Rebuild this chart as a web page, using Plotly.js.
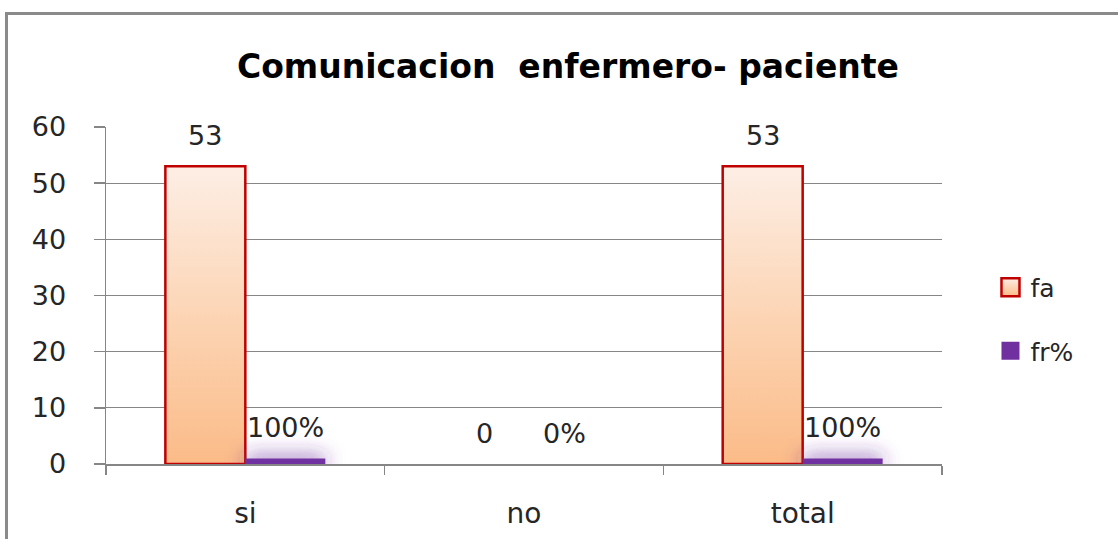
<!DOCTYPE html>
<html>
<head>
<meta charset="utf-8">
<script src="https://cdn.plot.ly/plotly-3.0.1.min.js"></script>
<style>
  html, body { margin: 0; padding: 0; background: #ffffff; overflow: hidden; }
  #frame { position: absolute; left: 5px; top: 12px; width: 1200px; height: 600px;
           border-top: 3px solid #8a8a8a; border-left: 3px solid #8a8a8a; box-sizing: border-box; }
  #chart { position: absolute; left: 0; top: 0; width: 1118px; height: 539px; }
</style>
</head>
<body>
<div id="frame"></div>
<div id="chart"></div>
<script>
const categories = ["si", "no", "total"];
const faValues = [53, 0, 53];
const frValues = [1, 0, 1];
const faLabels = ["53", "0", "53"];
const frLabels = ["100%", "0%", "100%"];
const titleText = "Comunicacion  enfermero- paciente";

const traces = [
  {
    type: "bar", name: "fa", x: categories, y: faValues,
    marker: { color: "#fcd3b2", line: { color: "#c00000", width: faValues.map(v => v > 0 ? 2.5 : 0) } },
    legendgroup: "a", hoverinfo: "none"
  },
  {
    type: "bar", name: "fr%", x: categories, y: frValues,
    marker: { color: "#7030a0", line: { width: 0 } },
    legendgroup: "b", hoverinfo: "none"
  }
];

const annotations = [];
categories.forEach((c, i) => {
  annotations.push({ x: c, y: faValues[i], xref: "x", yref: "y", text: faLabels[i],
    showarrow: false, xshift: -40, yshift: 31, yanchor: "middle",
    font: { family: "DejaVu Sans", size: 27, color: "#262626" } });
  annotations.push({ x: c, y: frValues[i], xref: "x", yref: "y", text: frLabels[i],
    showarrow: false, xshift: 40, yshift: 31, yanchor: "middle",
    font: { family: "DejaVu Sans", size: 27, color: "#262626" } });
});

const layout = {
  width: 1118, height: 539,
  paper_bgcolor: "rgba(0,0,0,0)", plot_bgcolor: "rgba(0,0,0,0)",
  margin: { l: 106, r: 176, t: 127, b: 75 },
  title: { text: "<b>" + titleText + "</b>", xref: "container", yref: "container",
           x: 0.508, y: 1 - 66 / 539, xanchor: "center", yanchor: "middle",
           font: { family: "DejaVu Sans", size: 33, color: "#000000" } },
  barmode: "group", bargap: 0.426, bargroupgap: 0,
  showlegend: true,
  legend: { x: 1.058, y: 0.43, xanchor: "left", yanchor: "middle",
            traceorder: "grouped", tracegroupgap: 28,
            font: { family: "DejaVu Sans", size: 25, color: "#262626" },
            bgcolor: "rgba(0,0,0,0)" },
  xaxis: { type: "category", showline: true, linecolor: "#868686", linewidth: 1.5,
           ticks: "outside", tickson: "boundaries", ticklen: 9, tickcolor: "#868686", tickwidth: 1.5,
           ticklabelstandoff: 24, showgrid: false, zeroline: false,
           tickfont: { family: "DejaVu Sans", size: 28, color: "#262626" } },
  yaxis: { range: [0, 60], dtick: 10, tick0: 0, showline: true, linecolor: "#868686", linewidth: 1.5,
           ticks: "outside", ticklen: 11, tickcolor: "#868686", tickwidth: 1.5,
           ticklabelstandoff: 22, showgrid: true, gridcolor: "#868686", gridwidth: 1.2,
           zeroline: false,
           tickfont: { family: "DejaVu Sans", size: 27, color: "#262626" } },
  annotations: annotations
};

Plotly.newPlot("chart", traces, layout, { displayModeBar: false, staticPlot: true }).then(gd => {
  const svgNS = "http://www.w3.org/2000/svg";
  const svg = gd.querySelector("svg.main-svg");
  let defs = svg.querySelector("defs");
  if (!defs) { defs = document.createElementNS(svgNS, "defs"); svg.insertBefore(defs, svg.firstChild); }
  const grad = document.createElementNS(svgNS, "linearGradient");
  grad.setAttribute("id", "faGrad");
  grad.setAttribute("x1", "0"); grad.setAttribute("y1", "0");
  grad.setAttribute("x2", "0"); grad.setAttribute("y2", "1");
  [["0", "#fdeee5"], ["0.5", "#fcd5b5"], ["1", "#fbbb88"]].forEach(([o, c]) => {
    const s = document.createElementNS(svgNS, "stop");
    s.setAttribute("offset", o); s.setAttribute("stop-color", c); grad.appendChild(s);
  });
  defs.appendChild(grad);
  const filt = document.createElementNS(svgNS, "filter");
  filt.setAttribute("id", "glow");
  filt.setAttribute("x", "-50%"); filt.setAttribute("y", "-800%");
  filt.setAttribute("width", "200%"); filt.setAttribute("height", "1700%");
  filt.innerHTML = '<feGaussianBlur in="SourceGraphic" stdDeviation="10" result="b"/>' +
    '<feComponentTransfer in="b" result="c"><feFuncA type="linear" slope="3.5"/></feComponentTransfer>' +
    '<feComponentTransfer in="c" result="d"><feFuncA type="linear" slope="0.45"/></feComponentTransfer>' +
    '<feMerge><feMergeNode in="d"/><feMergeNode in="SourceGraphic"/></feMerge>';
  defs.appendChild(filt);

  const barTraces = gd.querySelectorAll(".barlayer .trace.bars");
  if (barTraces[0]) barTraces[0].querySelectorAll("path").forEach(p => p.style.fill = "url(#faGrad)");
  if (barTraces[1]) barTraces[1].querySelectorAll("path").forEach(p => p.setAttribute("filter", "url(#glow)"));
  const legItems = gd.querySelectorAll(".legend .traces");
  legItems.forEach((it, i) => {
    const p = it.querySelector(".legendpoints path");
    if (p) {
      p.setAttribute("d", "M9,9H-9V-9H9Z");
      p.style.strokeWidth = i === 0 ? "2.5px" : "0px";
      if (i === 0) { p.style.fill = "url(#faGrad)"; p.style.stroke = "#c00000"; }
    }
  });
});
</script>
</body>
</html>
